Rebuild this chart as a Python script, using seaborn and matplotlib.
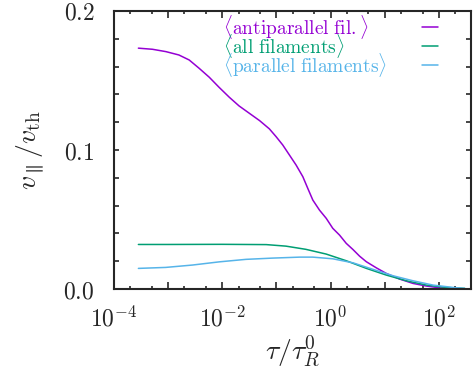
import numpy as np
import pandas as pd
import seaborn as sns
import matplotlib
matplotlib.use("Agg")
from matplotlib import pyplot as plt
from matplotlib import ticker

# values (tau / tau_R^0 , v_par / v_th)
tau_anti = [2.82e-4, 5.13e-4, 9.12e-4, 1.58e-3, 2.45e-3, 3.72e-3, 5.75e-3, 8.71e-3,
            1.35e-2, 2.04e-2, 3.16e-2, 4.90e-2, 7.41e-2, 9.86e-2, 0.131, 0.174,
            0.231, 0.308, 0.380, 0.471, 0.625, 0.832, 1.10, 1.47, 1.95, 2.59,
            3.44, 4.58, 7.01, 10.7, 19.0, 33.4, 59.2, 104.0, 184.0, 302.0]
v_anti = [0.1732, 0.1724, 0.1707, 0.1683, 0.1647, 0.1588, 0.1523, 0.1451,
          0.1379, 0.1317, 0.1264, 0.1211, 0.1152, 0.1096, 0.1036, 0.0964,
          0.0892, 0.0808, 0.0724, 0.0640, 0.0568, 0.0509, 0.0437, 0.0388, 0.0329, 0.0285,
          0.0237, 0.0197, 0.0153, 0.0113, 0.0072, 0.0041, 0.0022, 0.0009, 0.0003, 0.0001]

tau_all = [2.82e-4, 1e-3, 1e-2, 6.5e-2, 0.15, 0.35, 0.83, 1.95, 4.6, 10.7, 25.2, 59.2, 139.0, 302.0]
v_all = [0.0321, 0.0321, 0.0322, 0.0320, 0.0309, 0.0286, 0.0252, 0.0204, 0.0149, 0.0101, 0.006, 0.0029, 0.0012, 0.0005]

tau_par = [2.82e-4, 9.0e-4, 2.8e-3, 8.8e-3, 2.75e-2, 8.5e-2, 0.27, 0.47, 1.1, 2.6, 6.1, 14.3, 33.4, 78.3, 184.0, 302.0]
v_par = [0.0149, 0.0156, 0.0173, 0.0196, 0.0214, 0.0223, 0.0230, 0.0230, 0.0218, 0.0189, 0.0142, 0.0096, 0.006, 0.0029, 0.0012, 0.0005]

labels = [r'$\langle\mathrm{antiparallel\ fil.}\rangle$',
          r'$\langle\mathrm{all\ filaments}\rangle$',
          r'$\langle\mathrm{parallel\ filaments}\rangle$']
colors = ['#9400D3', '#009E73', '#56B4E9']

df = pd.concat([
    pd.DataFrame({'tau': tau_anti, 'v': v_anti, 'set': labels[0]}),
    pd.DataFrame({'tau': tau_all, 'v': v_all, 'set': labels[1]}),
    pd.DataFrame({'tau': tau_par, 'v': v_par, 'set': labels[2]}),
])

sns.set_style("ticks")
plt.rcParams['mathtext.fontset'] = 'cm'
plt.rcParams['font.family'] = ['DejaVu Serif']

fig = plt.figure(figsize=(4.77, 3.75), dpi=100)
ax = fig.add_axes([0.239, 0.229, 0.748, 0.742])

sns.lineplot(data=df, x='tau', y='v', hue='set', palette=dict(zip(labels, colors)),
             linewidth=1.1, legend=False, ax=ax, sort=False)

ax.set_xscale('log')
ax.set_xlim(1e-4, 390)
ax.set_ylim(0, 0.2)

ax.xaxis.set_major_locator(ticker.LogLocator(base=10, numticks=20))
ax.xaxis.set_minor_locator(ticker.LogLocator(base=10, subs=[2, 5], numticks=20))
def xfmt(v, pos):
    e = int(round(np.log10(v)))
    return f'$10^{{{e}}}$' if e % 2 == 0 else ''
ax.xaxis.set_major_formatter(ticker.FuncFormatter(xfmt))
ax.xaxis.set_minor_formatter(ticker.NullFormatter())

ax.yaxis.set_major_locator(ticker.MultipleLocator(0.1))
ax.yaxis.set_minor_locator(ticker.MultipleLocator(0.02))
ax.yaxis.set_major_formatter(ticker.FuncFormatter(lambda v, pos: f'${v:.1f}$'))

ax.tick_params(which='both', direction='in', top=True, right=True, width=1.2, labelsize=17)
ax.tick_params(axis='x', which='major', length=5, pad=12)
ax.tick_params(axis='x', which='minor', length=2.5)
ax.tick_params(axis='y', which='both', length=3.5, pad=14)
for s in ax.spines.values():
    s.set_linewidth(1.5)

ax.set_xlabel(r'$\tau/\tau_R^0$', fontsize=20, labelpad=2)
ax.set_ylabel(r'$v_\parallel/v_\mathrm{th}$', fontsize=20, labelpad=12)

# gnuplot-style key: coloured text left, line sample right
for i, (lab, c) in enumerate(zip(labels, colors)):
    yk = 0.942 - i * 0.069
    ax.text(0.305, yk, lab, color=c, fontsize=14, transform=ax.transAxes, va='center', ha='left')
    ax.plot([0.863, 0.908], [yk, yk], color=c, linewidth=1.1, transform=ax.transAxes)

fig.savefig('out.png', dpi=100)
